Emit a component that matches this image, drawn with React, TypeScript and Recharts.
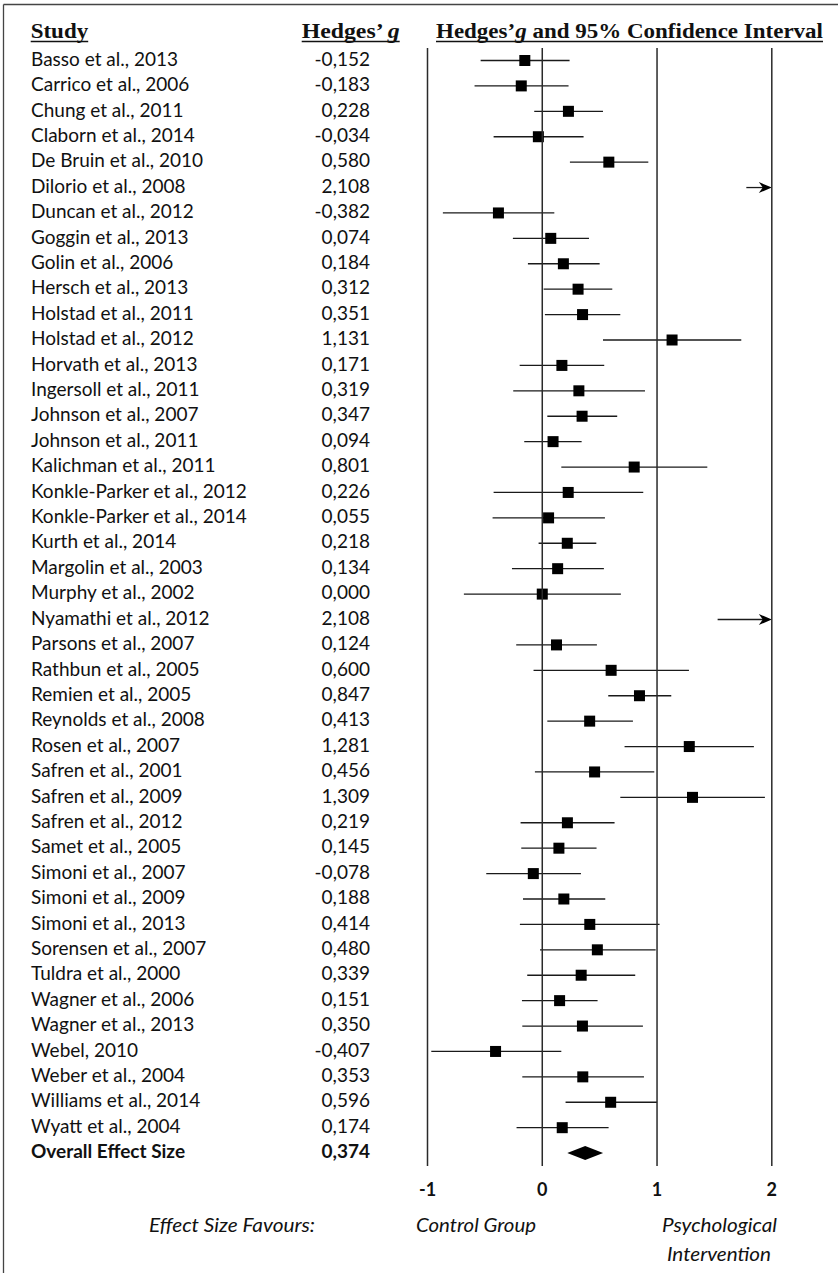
import React from "react";
import { Bar, ComposedChart, ReferenceLine, XAxis, YAxis } from "recharts";

const studies = [
  "Basso et al., 2013",
  "Carrico et al., 2006",
  "Chung et al., 2011",
  "Claborn et al., 2014",
  "De Bruin et al., 2010",
  "Dilorio et al., 2008",
  "Duncan et al., 2012",
  "Goggin et al., 2013",
  "Golin et al., 2006",
  "Hersch et al., 2013",
  "Holstad et al., 2011",
  "Holstad et al., 2012",
  "Horvath et al., 2013",
  "Ingersoll et al., 2011",
  "Johnson et al., 2007",
  "Johnson et al., 2011",
  "Kalichman et al., 2011",
  "Konkle-Parker et al., 2012",
  "Konkle-Parker et al., 2014",
  "Kurth et al., 2014",
  "Margolin et al., 2003",
  "Murphy et al., 2002",
  "Nyamathi et al., 2012",
  "Parsons et al., 2007",
  "Rathbun et al., 2005",
  "Remien et al., 2005",
  "Reynolds et al., 2008",
  "Rosen et al., 2007",
  "Safren et al., 2001",
  "Safren et al., 2009",
  "Safren et al., 2012",
  "Samet et al., 2005",
  "Simoni et al., 2007",
  "Simoni et al., 2009",
  "Simoni et al., 2013",
  "Sorensen et al., 2007",
  "Tuldra et al., 2000",
  "Wagner et al., 2006",
  "Wagner et al., 2013",
  "Webel, 2010",
  "Weber et al., 2004",
  "Williams et al., 2014",
  "Wyatt et al., 2004"
];

const hedgesG = [
  -0.152, -0.183, 0.228, -0.034, 0.58, 2.108, -0.382, 0.074, 0.184, 0.312, 0.351,
  1.131, 0.171, 0.319, 0.347, 0.094, 0.801, 0.226, 0.055, 0.218, 0.134, 0.0,
  2.108, 0.124, 0.6, 0.847, 0.413, 1.281, 0.456, 1.309, 0.219, 0.145, -0.078,
  0.188, 0.414, 0.48, 0.339, 0.151, 0.35, -0.407, 0.353, 0.596, 0.174
];

// 95% CI bounds
const ciLow = [
  -0.537, -0.59, -0.07, -0.424, 0.241, 1.778, -0.866, -0.256, -0.125, 0.012, 0.023,
  0.529, -0.197, -0.253, 0.044, -0.157, 0.166, -0.424, -0.433, -0.032, -0.264, -0.683,
  1.528, -0.227, -0.076, 0.575, 0.044, 0.717, -0.064, 0.68, -0.189, -0.183, -0.488,
  -0.168, -0.195, -0.02, -0.131, -0.177, -0.174, -0.967, -0.174, 0.203, -0.224
];

const ciHigh = [
  0.238, 0.229, 0.529, 0.36, 0.924, 2.438, 0.105, 0.407, 0.5, 0.61, 0.68,
  1.734, 0.54, 0.895, 0.653, 0.343, 1.438, 0.88, 0.546, 0.471, 0.537, 0.685,
  2.688, 0.476, 1.278, 1.124, 0.79, 1.844, 0.976, 1.94, 0.63, 0.473, 0.337,
  0.549, 1.022, 0.988, 0.81, 0.482, 0.877, 0.166, 0.886, 1.0, 0.578
];

const overallLabel = "Overall Effect Size";
const overallG = 0.374;
const overallCi = [0.218, 0.53];

const xTicks = [-1, 0, 1, 2];
const X_MIN = -1;
const X_MAX = 2;

const fmt = (v: number) => v.toFixed(3).replace(".", ",");

const rows = [
  ...studies.map((study, i) => ({
    study,
    g: hedgesG[i],
    ci: [ciLow[i], Math.min(ciHigh[i], X_MAX)],
    clipped: ciHigh[i] > X_MAX,
    overall: false
  })),
  { study: overallLabel, g: overallG, ci: overallCi, clipped: false, overall: true }
];

const SANS = "Lato, 'Open Sans', sans-serif";
const SERIF = "'Liberation Serif', 'Times New Roman', serif";
const INK = "#111";

function RowTick(props: any) {
  const { y, payload } = props;
  const row = rows.find((r) => r.study === payload.value);
  if (!row) return null;
  const weight = row.overall ? 700 : 400;
  return (
    <g>
      <text x={31} y={y + 5} fontFamily={SANS} fontSize={19} fontWeight={weight} fill={INK}>
        {row.study}
      </text>
      <text x={370} y={y + 5} textAnchor="end" fontFamily={SANS} fontSize={19} fontWeight={weight} fill={INK}>
        {fmt(row.g)}
      </text>
    </g>
  );
}

function XTick(props: any) {
  const { x, y, payload } = props;
  return (
    <text x={x} y={y + 28} textAnchor="middle" fontFamily={SANS} fontSize={18} fontWeight={700} fill={INK}>
      {payload.value}
    </text>
  );
}

function CiShape(props: any) {
  const { x, y, width, height, payload } = props;
  const cy = y + height / 2;
  const [lo, hi] = payload.ci;
  const gx = x + (width * (payload.g - lo)) / (hi - lo);
  const x2 = x + width;
  if (payload.overall) {
    return (
      <polygon
        points={`${x},${cy} ${gx},${cy - 7} ${x2},${cy} ${gx},${cy + 7}`}
        fill="#000"
      />
    );
  }
  return (
    <g>
      <line x1={x} x2={payload.clipped ? x2 - 8 : x2} y1={cy} y2={cy} stroke="#1a1a1a" strokeWidth={1.3} />
      {payload.clipped ? (
        <polygon
          points={`${x2},${cy} ${x2 - 13},${cy - 5.5} ${x2 - 9},${cy} ${x2 - 13},${cy + 5.5}`}
          fill="#000"
        />
      ) : (
        <rect x={gx - 5.5} y={cy - 5.5} width={11} height={11} fill="#000" />
      )}
    </g>
  );
}

export default function App() {
  return (
    <div style={{ position: "absolute", left: 0, top: 0, width: 838, height: 1273, background: "#fff" }}>
      <ComposedChart
        width={838}
        height={1273}
        layout="vertical"
        data={rows}
        margin={{ top: 48, right: 66.2, bottom: 67, left: 0 }}
        barCategoryGap={0}
      >
        <XAxis
          type="number"
          domain={[X_MIN, X_MAX]}
          ticks={xTicks}
          allowDataOverflow
          axisLine={false}
          tickLine={false}
          tickSize={0}
          height={40}
          interval={0}
          tick={<XTick />}
        />
        <YAxis
          type="category"
          dataKey="study"
          width={427.5}
          axisLine={false}
          tickLine={false}
          interval={0}
          tick={<RowTick />}
        />
        {xTicks.map((v) => (
          <ReferenceLine key={v} x={v} stroke="#2a2a2a" strokeWidth={1.5} />
        ))}
        <Bar dataKey="ci" shape={<CiShape />} isAnimationActive={false} />
      </ComposedChart>
      <svg
        width={838}
        height={1273}
        style={{ position: "absolute", left: 0, top: 0, pointerEvents: "none" }}
      >
        <line x1={3.5} y1={4.5} x2={838} y2={4.5} stroke="#444" strokeWidth={1.3} />
        <line x1={3.5} y1={4.5} x2={3.5} y2={1273} stroke="#444" strokeWidth={1.3} />

        <g fontFamily={SERIF} fontWeight={700} fontSize={20.5} fill={INK}>
          <text x={30.7} y={37.5} textLength={57.5} lengthAdjust="spacingAndGlyphs">
            Study
          </text>
          <text x={301.7} y={37.5} textLength={98} lengthAdjust="spacingAndGlyphs">
            Hedges’ <tspan fontStyle="italic">g</tspan>
          </text>
          <text x={436} y={37.5} textLength={387} lengthAdjust="spacingAndGlyphs">
            Hedges’<tspan fontStyle="italic">g</tspan> and 95% Confidence Interval
          </text>
        </g>
        <g stroke={INK} strokeWidth={1.6}>
          <line x1={30.7} x2={88.2} y1={41.5} y2={41.5} />
          <line x1={301.7} x2={399.7} y1={41.5} y2={41.5} />
          <line x1={436} x2={823} y1={41.5} y2={41.5} />
        </g>

        <g fontFamily={SANS} fontStyle="italic" fontSize={19.5} fill={INK}>
          <text x={149} y={1232} textLength={166} lengthAdjust="spacingAndGlyphs">
            Effect Size Favours:
          </text>
          <text x={416} y={1232} textLength={120} lengthAdjust="spacingAndGlyphs">
            Control Group
          </text>
          <text x={662} y={1232} textLength={115} lengthAdjust="spacingAndGlyphs">
            Psychological
          </text>
          <text x={667} y={1260.5} textLength={104} lengthAdjust="spacingAndGlyphs">
            Intervention
          </text>
        </g>
      </svg>
    </div>
  );
}
